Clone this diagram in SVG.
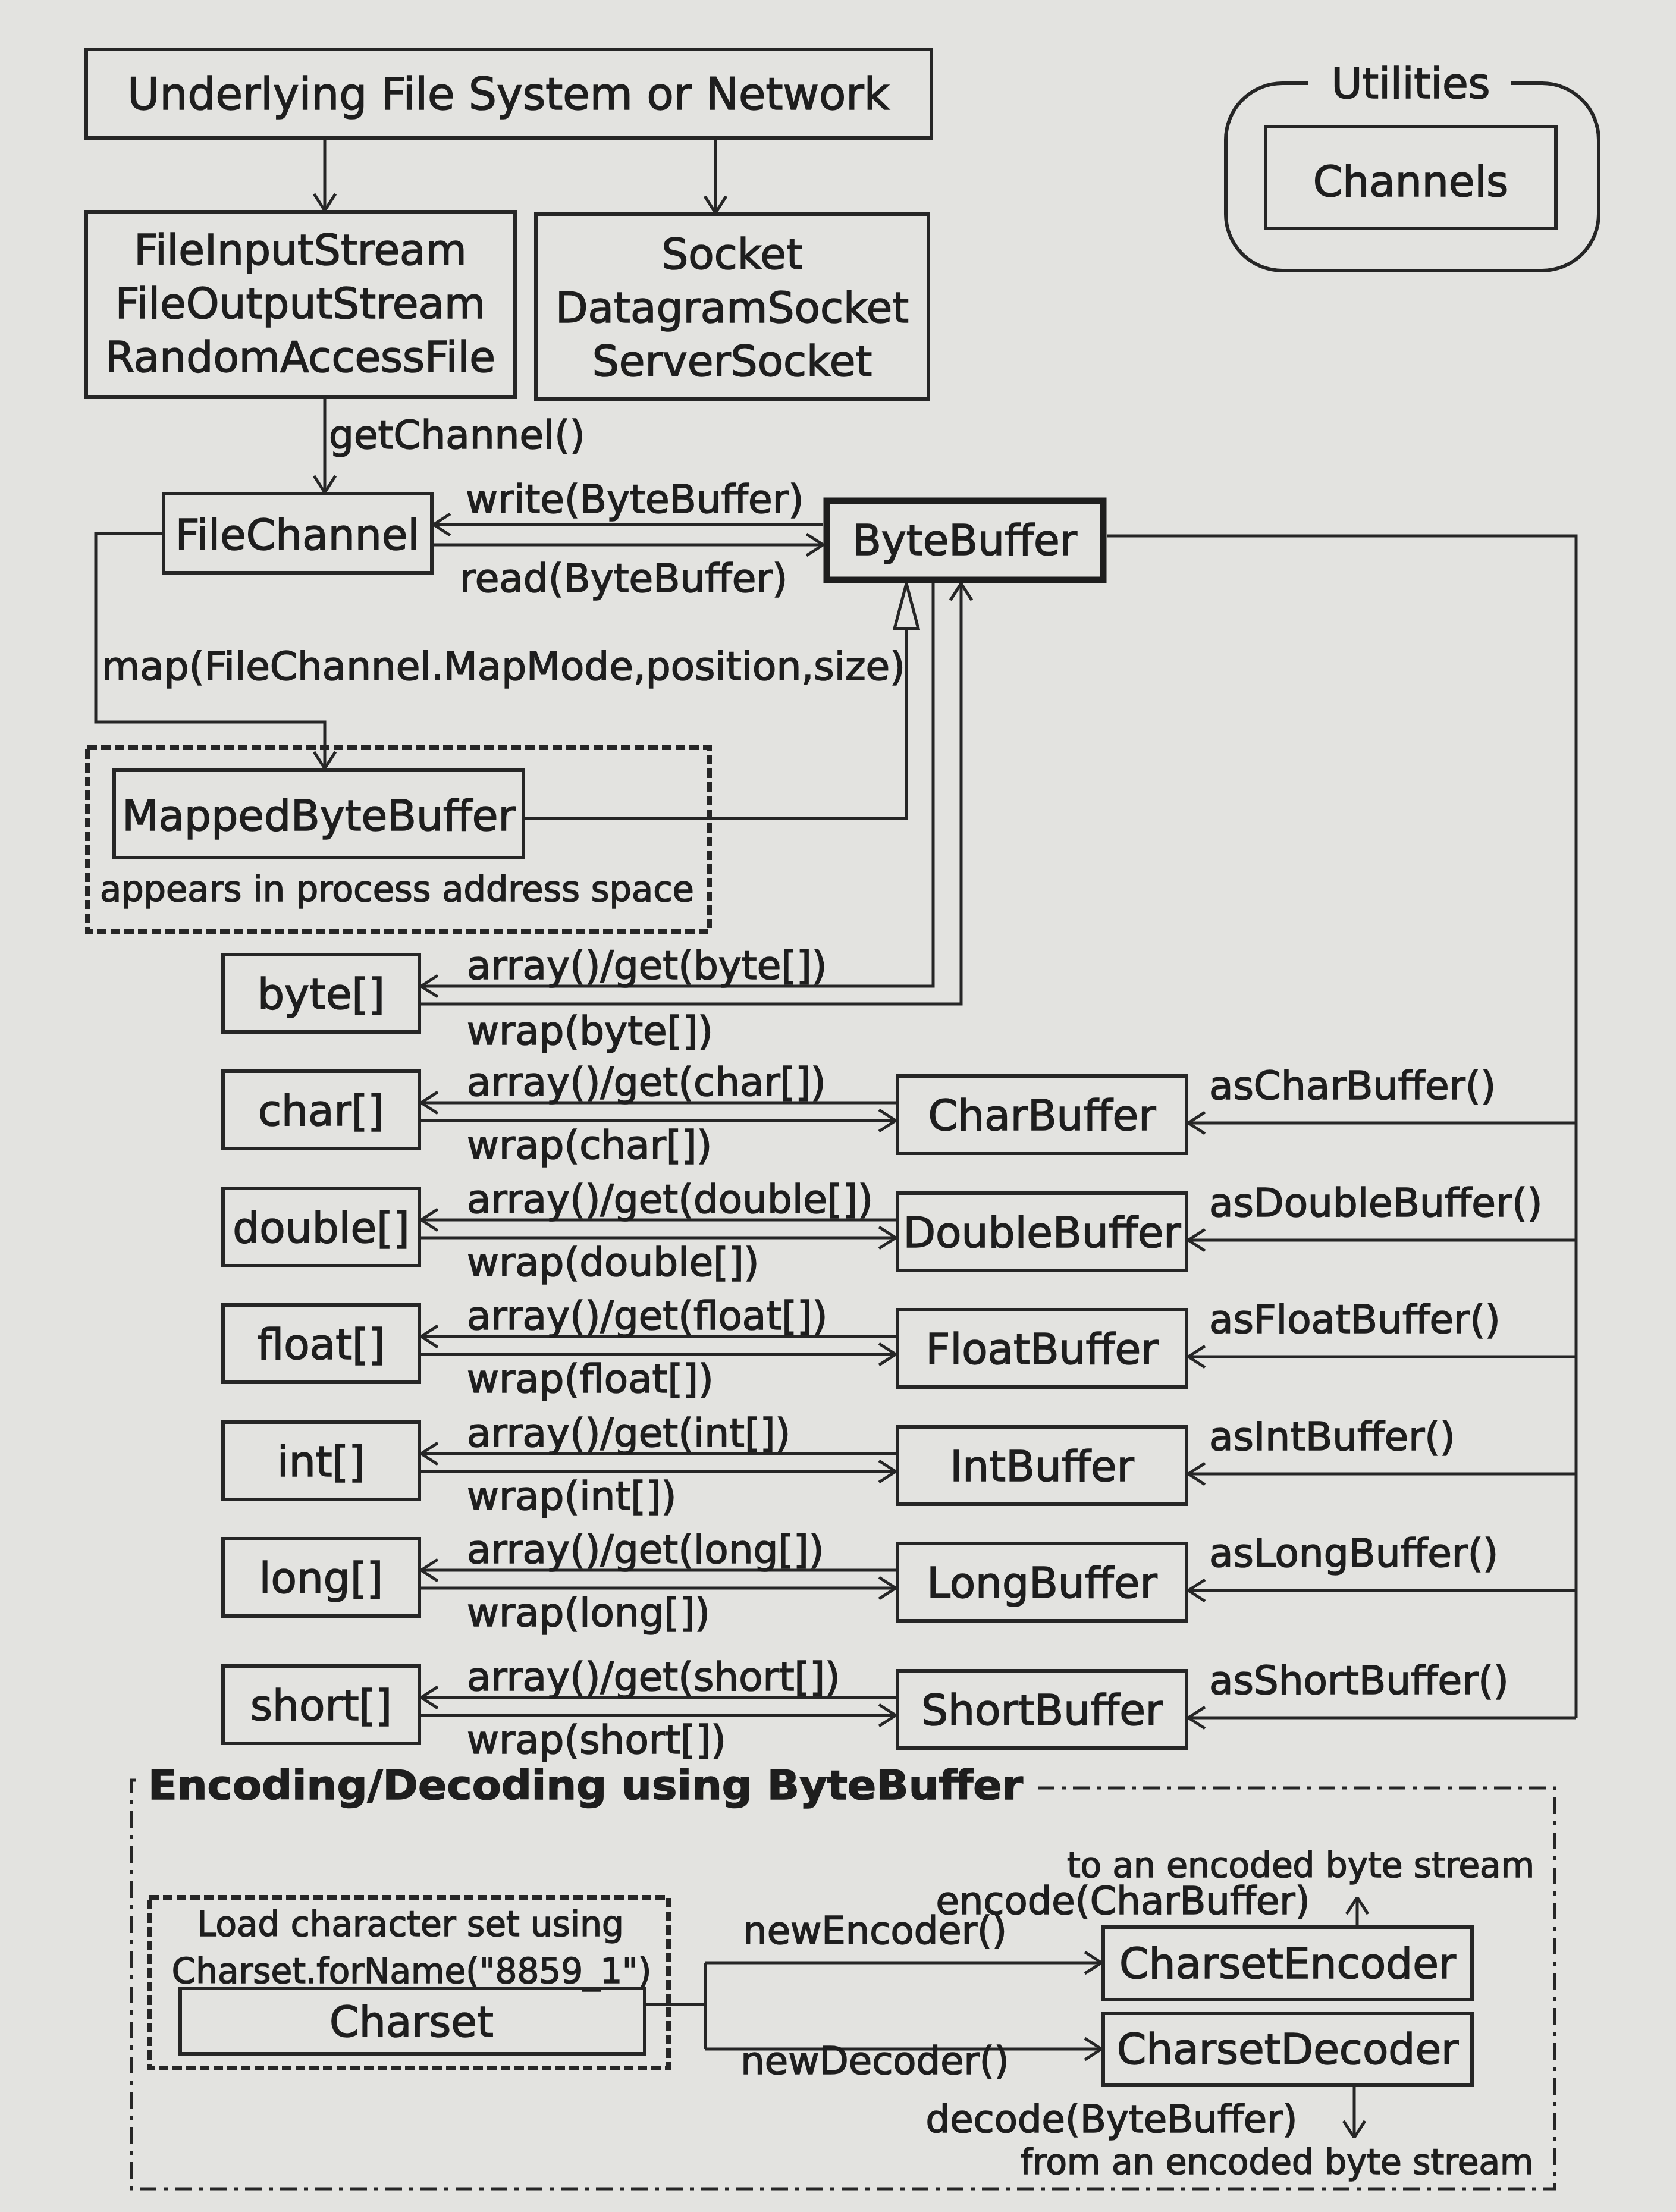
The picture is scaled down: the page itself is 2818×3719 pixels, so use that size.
<svg xmlns="http://www.w3.org/2000/svg" width="2818" height="3719" viewBox="0 0 2818 3719">
<style>
text{font-family:"DejaVu Sans",Verdana,sans-serif;fill:#1e1e1e;stroke:#1e1e1e;stroke-width:1.6px}
.bx{font-size:71px;text-anchor:middle}
.lb{font-size:66px}
.sm{font-size:58px}
.md{font-size:64px}
.tt{font-size:68px;font-weight:bold}
.node{fill:none;stroke:#262626;stroke-width:6}
.thick{fill:none;stroke:#1e1e1e;stroke-width:11}
.cn{fill:none;stroke:#262626;stroke-width:5}
.dash{fill:none;stroke:#262626;stroke-width:8;stroke-dasharray:16 7}
.dd{fill:none;stroke:#262626;stroke-width:5;stroke-dasharray:28 12 7 12}
</style>
<defs>
<marker id="v" viewBox="0 0 30 40" refX="29" refY="20" markerWidth="30" markerHeight="40" markerUnits="userSpaceOnUse" orient="auto"><path d="M1,2 L29,20 L1,38" fill="none" stroke="#262626" stroke-width="5"/></marker>
<marker id="tri" viewBox="0 0 80 46" refX="78" refY="23" markerWidth="80" markerHeight="46" markerUnits="userSpaceOnUse" orient="auto"><path d="M2,3 L78,23 L2,43 Z" fill="#e3e3e0" stroke="#262626" stroke-width="5"/></marker>
</defs>
<rect width="2818" height="3719" fill="#e3e3e0"/>

<g id="connectors">
<path class="cn" d="M546,232 V354" marker-end="url(#v)"/>
<path class="cn" d="M1203,232 V358" marker-end="url(#v)"/>
<path class="cn" d="M546,667 V828" marker-end="url(#v)"/>
<path class="cn" d="M1384,882 H729" marker-end="url(#v)"/>
<path class="cn" d="M729,916 H1384" marker-end="url(#v)"/>
<path class="cn" d="M275,897 H161 V1214 H546 V1292" marker-end="url(#v)"/>
<path class="cn" d="M883,1376 H1524 V981" marker-end="url(#tri)"/>
<path class="cn" d="M1569,981 V1658 H708" marker-end="url(#v)"/>
<path class="cn" d="M708,1688 H1616 V981" marker-end="url(#v)"/>
<path class="cn" d="M1861,901 H2650 V2888"/>
<path class="cn" d="M1509,1854 H708" marker-end="url(#v)"/>
<path class="cn" d="M708,1884 H1506" marker-end="url(#v)"/>
<path class="cn" d="M2650,1888 H1998" marker-end="url(#v)"/>
<path class="cn" d="M1509,2051 H708" marker-end="url(#v)"/>
<path class="cn" d="M708,2081 H1506" marker-end="url(#v)"/>
<path class="cn" d="M2650,2085 H1998" marker-end="url(#v)"/>
<path class="cn" d="M1509,2247 H708" marker-end="url(#v)"/>
<path class="cn" d="M708,2277 H1506" marker-end="url(#v)"/>
<path class="cn" d="M2650,2281 H1998" marker-end="url(#v)"/>
<path class="cn" d="M1509,2444 H708" marker-end="url(#v)"/>
<path class="cn" d="M708,2474 H1506" marker-end="url(#v)"/>
<path class="cn" d="M2650,2478 H1998" marker-end="url(#v)"/>
<path class="cn" d="M1509,2640 H708" marker-end="url(#v)"/>
<path class="cn" d="M708,2670 H1506" marker-end="url(#v)"/>
<path class="cn" d="M2650,2674 H1998" marker-end="url(#v)"/>
<path class="cn" d="M1509,2854 H708" marker-end="url(#v)"/>
<path class="cn" d="M708,2884 H1506" marker-end="url(#v)"/>
<path class="cn" d="M2650,2888 H1998" marker-end="url(#v)"/>
<path class="cn" d="M1084,3370 H1186"/>
<path class="cn" d="M1186,3300 V3445"/>
<path class="cn" d="M1186,3300 H1852" marker-end="url(#v)"/>
<path class="cn" d="M1186,3445 H1852" marker-end="url(#v)"/>
<path class="cn" d="M2282,3240 V3190" marker-end="url(#v)"/>
<path class="cn" d="M2277,3505 V3594" marker-end="url(#v)"/>
<text class="lb" x="553" y="754">getChannel()</text>
<text class="lb" x="783" y="862">write(ByteBuffer)</text>
<text class="lb" x="773" y="995">read(ByteBuffer)</text>
<text class="lb" x="171" y="1143">map(FileChannel.MapMode,position,size)</text>
<text class="lb" x="785" y="1646">array()/get(byte[])</text>
<text class="lb" x="785" y="1756">wrap(byte[])</text>
<text class="lb" x="785" y="1842">array()/get(char[])</text>
<text class="lb" x="785" y="1948">wrap(char[])</text>
<text class="lb" x="2033" y="1848">asCharBuffer()</text>
<text class="lb" x="785" y="2039">array()/get(double[])</text>
<text class="lb" x="785" y="2145">wrap(double[])</text>
<text class="lb" x="2033" y="2045">asDoubleBuffer()</text>
<text class="lb" x="785" y="2235">array()/get(float[])</text>
<text class="lb" x="785" y="2341">wrap(float[])</text>
<text class="lb" x="2033" y="2241">asFloatBuffer()</text>
<text class="lb" x="785" y="2432">array()/get(int[])</text>
<text class="lb" x="785" y="2538">wrap(int[])</text>
<text class="lb" x="2033" y="2438">asIntBuffer()</text>
<text class="lb" x="785" y="2628">array()/get(long[])</text>
<text class="lb" x="785" y="2734">wrap(long[])</text>
<text class="lb" x="2033" y="2634">asLongBuffer()</text>
<text class="lb" x="785" y="2842">array()/get(short[])</text>
<text class="lb" x="785" y="2948">wrap(short[])</text>
<text class="lb" x="2033" y="2848">asShortBuffer()</text>
<text class="md" x="1471" y="3268" text-anchor="middle">newEncoder()</text>
<text class="md" x="1471" y="3487" text-anchor="middle">newDecoder()</text>
<text class="md" x="1888" y="3218" text-anchor="middle">encode(CharBuffer)</text>
<text class="md" x="1869" y="3585" text-anchor="middle">decode(ByteBuffer)</text>
<text class="sm" x="2187" y="3156" text-anchor="middle">to an encoded byte stream</text>
<text class="sm" x="2147" y="3655" text-anchor="middle">from an encoded byte stream</text>
</g>

<g id="underlying">
<rect class="node" x="145" y="83" width="1421" height="149"/>
<text class="bx" x="855" y="184" style="font-size:74px">Underlying File System or Network</text>
</g>
<g id="streams">
<rect class="node" x="145" y="356" width="721" height="311"/>
<text class="bx" x="505" y="445">FileInputStream</text>
<text class="bx" x="505" y="535">FileOutputStream</text>
<text class="bx" x="505" y="625">RandomAccessFile</text>
</g>
<g id="sockets">
<rect class="node" x="901" y="360" width="660" height="311"/>
<text class="bx" x="1231" y="452">Socket</text>
<text class="bx" x="1231" y="542">DatagramSocket</text>
<text class="bx" x="1231" y="632">ServerSocket</text>
</g>
<g id="utilities">
<path class="node" d="M2200,140 H2156 A95,95 0 0 0 2061,235 V360 A95,95 0 0 0 2156,455 H2593 A95,95 0 0 0 2688,360 V235 A95,95 0 0 0 2593,140 H2540"/>
<text class="bx" x="2372" y="165">Utilities</text>
<rect class="node" x="2128" y="213" width="488" height="171"/>
<text class="bx" x="2372" y="330">Channels</text>
</g>
<g id="filechannel">
<rect class="node" x="275" y="830" width="451" height="133"/>
<text class="bx" x="500" y="924">FileChannel</text>
</g>
<g id="bytebuffer">
<rect class="thick" x="1390" y="842" width="465" height="133"/>
<text class="bx" x="1622" y="933">ByteBuffer</text>
</g>
<g id="mapped">
<rect class="dash" x="147" y="1257" width="1046" height="309"/>
<rect class="node" x="192" y="1295" width="688" height="147"/>
<text class="bx" x="536" y="1396">MappedByteBuffer</text>
<text class="sm" x="168" y="1515" style="font-size:59px">appears in process address space</text>
</g>
<g id="byte-arr"><rect class="node" x="375" y="1605" width="330" height="130"/><text class="bx" x="540" y="1696">byte[]</text></g>
<g id="char-arr"><rect class="node" x="375" y="1801" width="330" height="130"/><text class="bx" x="540" y="1892">char[]</text></g>
<g id="double-arr"><rect class="node" x="375" y="1998" width="330" height="130"/><text class="bx" x="540" y="2089">double[]</text></g>
<g id="float-arr"><rect class="node" x="375" y="2194" width="330" height="130"/><text class="bx" x="540" y="2285">float[]</text></g>
<g id="int-arr"><rect class="node" x="375" y="2391" width="330" height="130"/><text class="bx" x="540" y="2482">int[]</text></g>
<g id="long-arr"><rect class="node" x="375" y="2587" width="330" height="130"/><text class="bx" x="540" y="2678">long[]</text></g>
<g id="short-arr"><rect class="node" x="375" y="2801" width="330" height="130"/><text class="bx" x="540" y="2892">short[]</text></g>
<g id="charbuffer"><rect class="node" x="1509" y="1809" width="486" height="130"/><text class="bx" x="1752" y="1900">CharBuffer</text></g>
<g id="doublebuffer"><rect class="node" x="1509" y="2006" width="486" height="130"/><text class="bx" x="1752" y="2097">DoubleBuffer</text></g>
<g id="floatbuffer"><rect class="node" x="1509" y="2202" width="486" height="130"/><text class="bx" x="1752" y="2293">FloatBuffer</text></g>
<g id="intbuffer"><rect class="node" x="1509" y="2399" width="486" height="130"/><text class="bx" x="1752" y="2490">IntBuffer</text></g>
<g id="longbuffer"><rect class="node" x="1509" y="2595" width="486" height="130"/><text class="bx" x="1752" y="2686">LongBuffer</text></g>
<g id="shortbuffer"><rect class="node" x="1509" y="2809" width="486" height="130"/><text class="bx" x="1752" y="2900">ShortBuffer</text></g>

<g id="encoding">
<path class="dd" d="M1745,3006 H2614 V3680 H221 V2993 H236"/>
<text class="tt" x="249" y="3025" textLength="1471" lengthAdjust="spacingAndGlyphs">Encoding/Decoding using ByteBuffer</text>
</g>
<g id="charset">
<rect class="dash" x="251" y="3190" width="873" height="287"/>
<text class="sm" x="690" y="3255" text-anchor="middle">Load character set using</text>
<text class="sm" x="692" y="3334" text-anchor="middle">Charset.forName("8859_1")</text>
<rect class="node" x="303" y="3343" width="781" height="110"/>
<text class="bx" x="692" y="3424">Charset</text>
</g>
<g id="encoder">
<rect class="node" x="1855" y="3240" width="620" height="122"/>
<text class="bx" x="2165" y="3326">CharsetEncoder</text>
</g>
<g id="decoder">
<rect class="node" x="1855" y="3385" width="620" height="120"/>
<text class="bx" x="2165" y="3470">CharsetDecoder</text>
</g>
</svg>
